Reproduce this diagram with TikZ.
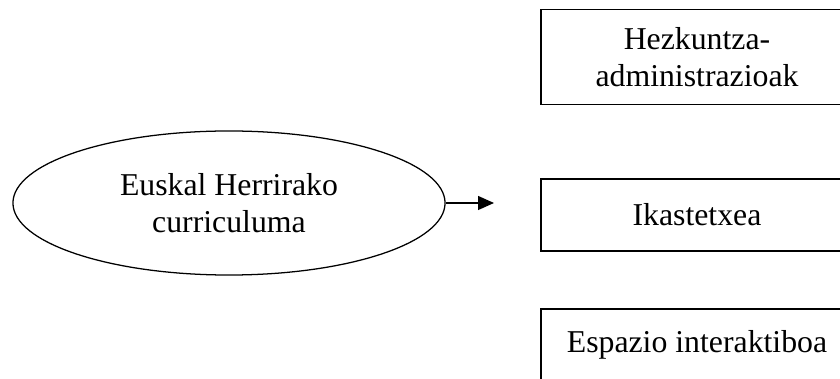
\documentclass[tikz,border=0pt]{standalone}
\usepackage{fontspec}
\setmainfont{Liberation Serif}
\usetikzlibrary{shapes.geometric,arrows.meta}

\begin{document}
\begin{tikzpicture}[x=0.025cm,y=-0.025cm,line width=0.9pt,
  every node/.style={font=\fontsize{22.6}{26.3}\selectfont},
  curric/.style={draw,ellipse,minimum width=10.8cm,minimum height=3.6cm,inner sep=0pt,align=center},
  maila/.style={draw,rectangle,minimum width=7.8cm,inner sep=0pt,align=center}]
\useasboundingbox (0,0) rectangle (840,379);
\clip (0,0) rectangle (840,379);
\node[curric] (eh) at (229,203) {Euskal Herrirako\\curriculuma}; %ellipse
\node[maila,minimum height=2.375cm] (hezk) at (697,57) {Hezkuntza-\\administrazioak}; %top box
\node[maila,minimum height=1.8cm] (ikas) at (697,215) {Ikastetxea}; %middle box
\node[maila,minimum height=1.8cm] (espa) at (697,345) {Espazio interaktiboa}; %bottom box
\coordinate (tip) at (494,203);
\draw[-{Triangle[length=0.4cm,width=0.35cm]}] (eh.east) -- (tip); %arrow
\end{tikzpicture}
\end{document}
